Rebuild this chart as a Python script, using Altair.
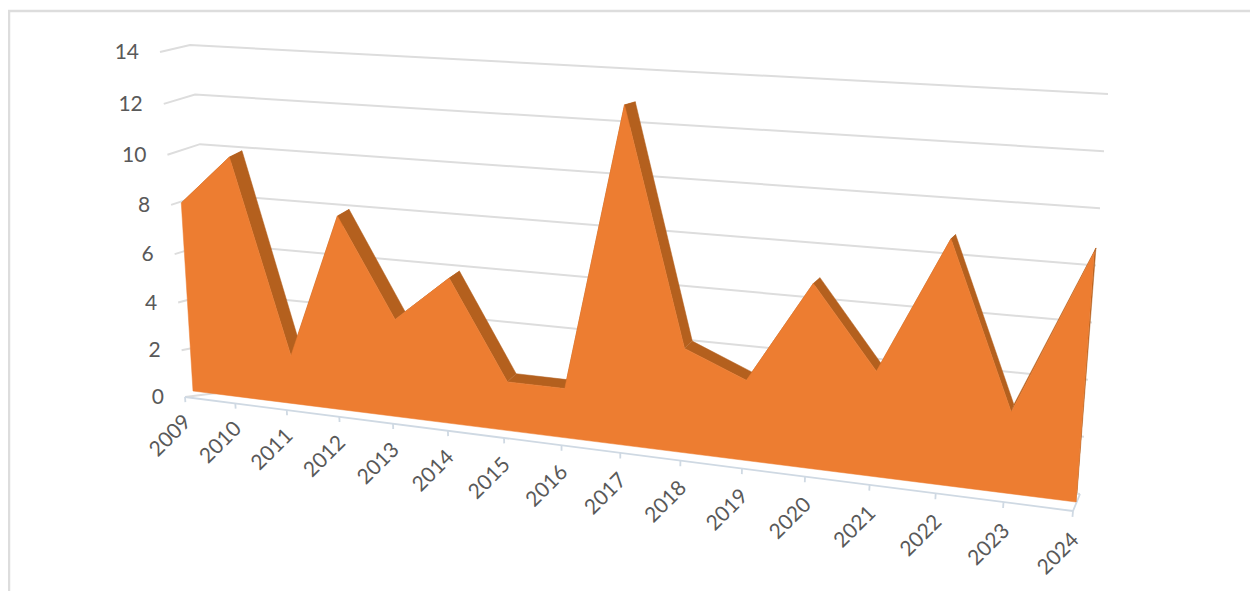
import altair as alt
import numpy as np
import pandas as pd

years = list(range(2009, 2025))
values = [7.85, 9.85, 2.0, 7.85, 3.95, 5.8, 1.95, 1.95, 12.75, 4.0, 3.05, 6.85, 3.9, 8.82, 2.95, 8.75]
ticks_y = [0, 2, 4, 6, 8, 10, 12, 14]

ORANGE = "#ED7D31"
DARK = "#B4601E"
GRID = "#DDDDDD"
AXIS = "#CFD9E3"
TEXT = "#595959"


def homography(c00, c10, c01, c11):
    """Plane (t, v/14) -> picture, from where its four corners fall."""
    src = [(0, 0), (1, 0), (0, 1), (1, 1)]
    dst = [c00, c10, c01, c11]
    A, b = [], []
    for (u, v), (x, y) in zip(src, dst):
        A.append([u, v, 1, 0, 0, 0, -u * x, -v * x])
        A.append([0, 0, 0, u, v, 1, -u * y, -v * y])
        b += [x, y]
    h = np.linalg.solve(np.array(A, float), np.array(b, float))
    H = np.append(h, 1).reshape(3, 3)

    def f(t, val):
        p = H @ np.array([t, val / 14, 1.0])
        return float(p[0] / p[2]), float(p[1] / p[2])

    return f


def lerp(a, b, s):
    return a[0] + (b[0] - a[0]) * s, a[1] + (b[1] - a[1]) * s


front = homography((193, 391), (1076, 502), (171.6, 48), (1106, 92.5))
back = homography((202, 382), (1077, 493), (186, 43), (1108, 92.5))
axis_plane = homography((185, 397), (1073, 511), (160, 52), (1108, 104.5))
wall_left = ((225, 392), (190, 45))
wall_right = ((1080, 494), (1108, 94))

n = len(years)
ts = [i / (n - 1) for i in range(n)]

# grid: side piece + back wall
grid_rows = []
for v in ticks_y:
    pts = [axis_plane(0, v), lerp(*wall_left, v / 14), lerp(*wall_right, v / 14)]
    for k, (x, y) in enumerate(pts):
        grid_rows.append(dict(g=v, k=k, sx=x, sy=y))
grid_df = pd.DataFrame(grid_rows)

# floor front axis and its ticks
axis_rows = [dict(g="axis", k=0, sx=axis_plane(0, 0)[0], sy=axis_plane(0, 0)[1]),
             dict(g="axis", k=1, sx=axis_plane(1, 0)[0], sy=axis_plane(1, 0)[1]),
             dict(g="end", k=0, sx=axis_plane(1, 0)[0], sy=axis_plane(1, 0)[1]),
             dict(g="end", k=1, sx=wall_right[0][0], sy=wall_right[0][1])]
for t, yr in zip(ts, years):
    a = axis_plane(t, 0)
    b = axis_plane(t, -0.22)
    axis_rows.append(dict(g=f"t{yr}", k=0, sx=a[0], sy=a[1]))
    axis_rows.append(dict(g=f"t{yr}", k=1, sx=b[0], sy=b[1]))
axis_df = pd.DataFrame(axis_rows)

# top surface of the area
quad_rows = []
for i in range(n - 1):
    corners = [front(ts[i], values[i]), front(ts[i + 1], values[i + 1]),
               back(ts[i + 1], values[i + 1]), back(ts[i], values[i])]
    for k, (x, y) in enumerate(corners):
        quad_rows.append(dict(g=i, k=k, sx=x, sy=y))
corners = [front(1, 0), front(1, values[-1]), back(1, values[-1]), back(1, 0)]
for k, (x, y) in enumerate(corners):
    quad_rows.append(dict(g=n, k=k, sx=x, sy=y))
quad_df = pd.DataFrame(quad_rows)

# front face of the area
face = [front(0, 0)] + [front(t, v) for t, v in zip(ts, values)] + [front(1, 0), front(0, 0)]
face_df = pd.DataFrame([dict(g=0, k=k, sx=x, sy=y) for k, (x, y) in enumerate(face)])

# labels
ylab_df = pd.DataFrame([dict(label=str(v), sx=axis_plane(0, v)[0] - 21, sy=axis_plane(0, v)[1] + 1)
                        for v in ticks_y])
xlab_df = pd.DataFrame([dict(label=str(yr),
                             sx=axis_plane(t, 0)[0] + 3,
                             sy=axis_plane(t, 0)[1] + 22 + 4 * t)
                        for t, yr in zip(ts, years)])

border_df = pd.DataFrame([dict(k=0, sx=9, sy=591), dict(k=1, sx=9, sy=11), dict(k=2, sx=1250, sy=11)])

X = alt.X("sx:Q", scale=alt.Scale(domain=[8, 1250]), axis=None)
Y = alt.Y("sy:Q", scale=alt.Scale(domain=[591, 8]), axis=None)


def lines(df, color, width):
    return alt.Chart(df).mark_line(color=color, strokeWidth=width).encode(
        x=X, y=Y, detail="g:N", order="k:Q")


def filled(df, color):
    return alt.Chart(df).mark_line(fill=color, stroke=color, strokeWidth=0.5, fillOpacity=1).encode(
        x=X, y=Y, detail="g:N", order="k:Q")


border = alt.Chart(border_df).mark_line(color=GRID, strokeWidth=2.5).encode(x=X, y=Y, order="k:Q")
ylabs = alt.Chart(ylab_df).mark_text(align="right", baseline="middle", font="Lato", fontSize=21,
                                     color=TEXT).encode(x=X, y=Y, text="label:N")
xlabs = alt.Chart(xlab_df).mark_text(align="right", baseline="middle", font="Lato", fontSize=21,
                                     angle=315, color=TEXT).encode(x=X, y=Y, text="label:N")

chart = alt.layer(
    border,
    lines(grid_df, GRID, 2),
    lines(axis_df, AXIS, 1.8),
    filled(quad_df, DARK),
    filled(face_df, ORANGE),
    ylabs,
    xlabs,
).properties(
    width=1242, height=583, padding=0, autosize=alt.AutoSizeParams(type="none"),
    background="white",
).configure_view(stroke=None)

chart.save("out.html", embed_options={"renderer": "svg", "actions": False})
